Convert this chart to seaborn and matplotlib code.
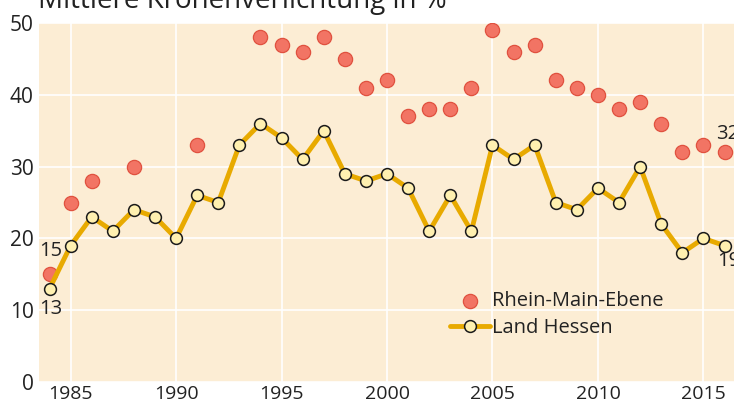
import numpy as np
import pandas as pd
import seaborn as sns
import matplotlib.pyplot as plt
from matplotlib.ticker import MultipleLocator

years = list(range(1984, 2017))
hessen = [13, 19, 23, 21, 24, 23, 20, 26, 25, 33, 36, 34, 31, 35, 29, 28, 29,
          27, 21, 26, 21, 33, 31, 33, 25, 24, 27, 25, 30, 22, 18, 20, 19]
rm_years = [1984, 1985, 1986, 1988, 1991, 1994, 1995, 1996, 1997, 1998, 1999,
            2000, 2001, 2002, 2003, 2004, 2005, 2006, 2007, 2008, 2009, 2010,
            2011, 2012, 2013, 2014, 2015, 2016]
rhein_main = [15, 25, 28, 30, 33, 48, 47, 46, 48, 45, 41, 42, 37, 38, 38, 41,
              49, 46, 47, 42, 41, 40, 38, 39, 36, 32, 33, 32]

df_h = pd.DataFrame({"Jahr": years, "Wert": hessen})
df_r = pd.DataFrame({"Jahr": rm_years, "Wert": rhein_main})

sns.set_theme(style="white")
plt.rcParams["font.family"] = ["Open Sans", "DejaVu Sans"]

fig = plt.figure(figsize=(7.34, 4.03), dpi=100)
ax = fig.add_axes([39 / 734, (403 - 382) / 403, (734 - 39) / 734, (382 - 23) / 403])
ax.set_facecolor("#fcedd4")

line_col = "#e8aa00"
txt_col = "#222222"

sns.scatterplot(data=df_r, x="Jahr", y="Wert", ax=ax, s=105, color="#f27464",
                edgecolor="#e0513f", linewidth=0.9, zorder=3, label="Rhein-Main-Ebene")
sns.lineplot(data=df_h, x="Jahr", y="Wert", ax=ax, color=line_col, linewidth=3.5,
             marker="o", markersize=8.5, markerfacecolor="#fff0b0",
             markeredgecolor="#1a1a1a", markeredgewidth=1.1, zorder=4,
             label="Land Hessen")

ax.set_xlim(1983.5, 2016.45)
ax.set_ylim(0, 50)
ax.set_xlabel("")
ax.set_ylabel("")
ax.xaxis.set_major_locator(MultipleLocator(5))
ax.xaxis.set_minor_locator(MultipleLocator(1))
ax.yaxis.set_major_locator(MultipleLocator(10))
ax.grid(True, which="major", color="white", linewidth=1.2)
ax.set_axisbelow(True)
for s in ax.spines.values():
    s.set_visible(False)
ax.tick_params(axis="x", which="major", length=0, labelsize=14, colors=txt_col, pad=2)
ax.tick_params(axis="x", which="minor", direction="in", length=5, width=1.2, color="white")
ax.tick_params(axis="y", length=0, labelsize=15, colors=txt_col, pad=4)

# Beschriftungen der Endwerte
ax.text(1983.5, 18.3, "15", fontsize=14.5, color=txt_col, ha="left", va="center")
ax.text(1983.5, 10.2, "13", fontsize=14.5, color=txt_col, ha="left", va="center")
ax.text(2015.6, 34.6, "32", fontsize=14.5, color=txt_col, ha="left", va="center")
ax.text(2015.65, 16.8, "19", fontsize=14.5, color=txt_col, ha="left", va="center")

leg = ax.legend(loc="upper left", bbox_to_anchor=(0.58, 0.275), frameon=False,
                fontsize=14.5, handlelength=2.0, handletextpad=0.1, borderaxespad=0,
                labelspacing=0.35, labelcolor=txt_col)

fig.text(38 / 734, 1 - 8 / 403, "Mittlere Kronenverlichtung in %", fontsize=20,
         color=txt_col, ha="left", va="baseline")

fig.savefig("out.png", dpi=100)
